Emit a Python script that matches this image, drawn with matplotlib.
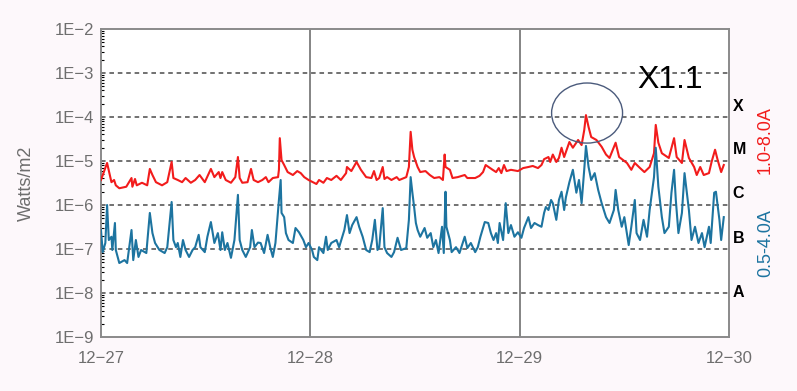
import numpy as np
import matplotlib.pyplot as plt
from matplotlib.patches import Ellipse

plt.rcParams['font.family'] = ['Liberation Sans', 'DejaVu Sans']

# hours since 12-27 00:00 and flux in W/m2
red_hours = [0.0, 0.7, 1.2, 1.5, 1.7, 2.1, 2.9, 3.5, 3.6, 3.9, 4.1, 4.7, 5.3, 5.6, 5.9, 6.3,
             7.0, 7.6, 8.1, 8.3, 8.8, 9.3, 9.7, 10.3, 10.8, 11.3, 11.9, 12.6, 13.0, 13.5,
             13.7, 13.9, 14.3, 14.9, 15.4, 15.7, 15.9, 16.2, 16.8, 17.2, 17.5, 18.0, 18.5,
             18.9, 19.2, 19.7, 20.3, 20.4, 20.5, 20.7, 21.0, 21.4, 22.0, 22.5, 22.9, 23.3,
             23.8, 24.3, 24.7, 25.0, 25.5, 25.9, 26.4, 27.0, 27.5, 28.1, 28.2, 28.7, 29.3,
             29.8, 30.4, 31.0, 31.3, 31.6, 31.9, 32.3, 32.5, 32.8, 33.3, 33.9, 34.2, 35.0,
             35.3, 35.5, 35.7, 35.9, 36.3, 36.6, 37.2, 37.7, 38.2, 38.8, 39.2, 39.4, 39.5,
             40.0, 40.3, 40.9, 41.7, 42.0, 42.9, 43.4, 43.8, 44.1, 44.6, 44.9, 45.3, 45.6,
             45.9, 46.2, 46.5, 47.0, 47.8, 48.4, 49.0, 49.5, 50.1, 50.5, 50.8, 51.3, 51.5,
             51.8, 52.2, 52.5, 52.8, 53.1, 53.7, 54.1, 54.7, 55.1, 55.4, 55.6, 55.9, 56.2,
             56.8, 57.4, 57.9, 58.3, 59.0, 59.4, 60.3, 60.8, 61.2, 61.8, 62.3, 62.9, 63.4,
             63.6, 63.9, 64.3, 65.1, 65.7, 66.0, 66.6, 66.9, 67.4, 68.0, 68.3, 68.7, 69.1,
             69.7, 70.0, 70.4, 70.7, 71.1, 71.4]
red_flux = [3.7e-6, 9.0e-6, 3.3e-6, 3.7e-6, 2.8e-6, 2.4e-6, 2.6e-6, 4.1e-6, 2.6e-6, 3.9e-6,
            2.8e-6, 3.2e-6, 2.8e-6, 6.6e-6, 4.8e-6, 3.3e-6, 2.8e-6, 3.3e-6, 9.5e-6, 4.1e-6,
            3.7e-6, 3.3e-6, 4.1e-6, 3.2e-6, 3.7e-6, 4.8e-6, 3.3e-6, 6.6e-6, 4.3e-6, 5.6e-6,
            4.1e-6, 5.6e-6, 3.7e-6, 3.2e-6, 4.3e-6, 1.23e-5, 4.1e-6, 3.2e-6, 3.3e-6, 6.6e-6,
            3.7e-6, 3.3e-6, 3.7e-6, 4.3e-6, 3.3e-6, 4.1e-6, 4.3e-6, 6.3e-6, 3.3e-5, 1.05e-5,
            8.1e-6, 5.6e-6, 4.8e-6, 5.9e-6, 5.3e-6, 4.3e-6, 3.7e-6, 3.3e-6, 3.0e-6, 3.7e-6,
            3.2e-6, 4.1e-6, 3.7e-6, 4.6e-6, 3.7e-6, 5.3e-6, 7.3e-6, 5.9e-6, 9.5e-6, 6.3e-6,
            4.3e-6, 4.1e-6, 5.9e-6, 3.7e-6, 4.1e-6, 7.3e-6, 3.9e-6, 4.3e-6, 3.7e-6, 4.3e-6,
            3.7e-6, 4.3e-6, 7.3e-6, 4.6e-5, 1.8e-5, 1.23e-5, 7.3e-6, 5.6e-6, 5.9e-6, 4.8e-6,
            4.1e-6, 4.3e-6, 3.7e-6, 1.4e-5, 7.3e-6, 6.3e-6, 4.1e-6, 4.3e-6, 4.8e-6, 4.1e-6,
            4.1e-6, 4.6e-6, 5.6e-6, 8.1e-6, 6.9e-6, 6.3e-6, 5.6e-6, 6.9e-6, 5.3e-6, 8.1e-6,
            5.9e-6, 6.3e-6, 5.9e-6, 6.9e-6, 7.3e-6, 7.7e-6, 6.9e-6, 8.1e-6, 1.1e-5, 1.23e-5,
            9.5e-6, 1.4e-5, 9.5e-6, 1.17e-5, 2.0e-5, 1.23e-5, 2.7e-5, 2.0e-5, 3.0e-5, 2.3e-5,
            5.0e-5, 1.1e-4, 5.9e-5, 3.5e-5, 3.0e-5, 2.1e-5, 1.4e-5, 1.17e-5, 2.6e-5, 1.23e-5,
            9.0e-6, 6.3e-6, 9.0e-6, 6.9e-6, 5.6e-6, 7.3e-6, 1.5e-5, 6.6e-5, 2.6e-5, 1.5e-5,
            1.17e-5, 3.3e-5, 1.23e-5, 9.0e-6, 3.0e-5, 1.17e-5, 7.3e-6, 4.8e-6, 7.3e-6, 4.8e-6,
            5.3e-6, 9.5e-6, 1.8e-5, 1.05e-5, 5.6e-6, 8.1e-6]

blue_hours = [0.0, 0.2, 0.5, 0.7, 0.9, 1.2, 1.3, 1.6, 1.7, 2.1, 2.7, 3.0, 3.5, 3.7, 4.0, 4.3,
              4.6, 5.2, 5.6, 5.9, 6.2, 6.7, 7.3, 7.6, 8.1, 8.3, 8.6, 8.8, 9.1, 9.4, 9.7, 10.1,
              10.5, 10.8, 11.2, 11.4, 11.9, 12.2, 12.6, 13.0, 13.4, 13.7, 13.9, 14.2, 14.5,
              14.9, 15.3, 15.7, 15.9, 16.2, 16.6, 17.1, 17.3, 17.6, 18.0, 18.3, 18.7, 19.1,
              19.4, 19.7, 20.0, 20.4, 20.6, 20.7, 21.0, 21.2, 21.5, 22.0, 22.3, 22.7, 23.2,
              23.5, 23.8, 24.2, 24.4, 24.8, 25.0, 25.5, 25.8, 26.0, 26.4, 27.0, 27.3, 27.9,
              28.2, 28.5, 28.8, 29.3, 29.6, 30.0, 30.4, 30.8, 31.1, 31.4, 31.7, 31.9, 32.3,
              32.5, 32.8, 33.3, 33.6, 34.0, 34.4, 35.0, 35.3, 35.5, 35.7, 35.9, 36.1, 36.3,
              36.6, 37.1, 37.4, 37.8, 38.1, 38.4, 38.7, 39.1, 39.3, 39.5, 39.6, 40.0, 40.2,
              40.7, 41.1, 41.7, 42.0, 42.4, 42.9, 43.2, 43.5, 44.0, 44.4, 44.7, 45.0, 45.3,
              45.5, 45.7, 46.1, 46.4, 46.7, 47.0, 47.4, 47.8, 48.2, 48.5, 49.0, 49.3, 49.7,
              50.1, 50.5, 50.8, 51.0, 51.3, 51.6, 51.8, 52.2, 52.5, 52.8, 53.1, 53.3, 53.7,
              54.1, 54.5, 54.8, 55.1, 55.4, 55.6, 55.9, 56.2, 56.6, 57.0, 57.4, 57.9, 58.3,
              58.8, 59.0, 59.3, 59.7, 60.0, 60.5, 60.8, 61.2, 61.4, 61.8, 62.2, 62.6, 62.9,
              63.4, 63.6, 63.9, 64.3, 64.6, 65.1, 65.4, 65.7, 65.9, 66.2, 66.6, 66.9, 67.4,
              67.7, 68.1, 68.5, 68.9, 69.2, 69.7, 69.9, 70.3, 70.5, 70.9, 71.1, 71.4]
blue_flux = [2.7e-7, 8.5e-8, 1.37e-7, 1.0e-6, 1.6e-7, 1.9e-7, 9.5e-8, 3.9e-7, 9.5e-8, 4.8e-8,
             5.6e-8, 4.8e-8, 2.7e-7, 5.6e-8, 1.6e-7, 6.6e-8, 9.5e-8, 8.1e-8, 6.6e-7, 2.3e-7,
             1.37e-7, 9.5e-8, 8.1e-8, 1.1e-7, 1.17e-6, 1.6e-7, 1.1e-7, 1.37e-7, 6.6e-8, 1.6e-7,
             9.5e-8, 6.6e-8, 9.5e-8, 1.1e-7, 2.1e-7, 1.1e-7, 8.5e-8, 1.9e-7, 4.1e-7, 1.37e-7,
             2.3e-7, 9.5e-8, 2.4e-7, 9.5e-8, 1.37e-7, 6.3e-8, 1.6e-7, 1.7e-6, 1.6e-7, 9.5e-8,
             6.6e-8, 1.1e-7, 2.7e-7, 1.1e-7, 1.4e-7, 1.37e-7, 8.1e-8, 2.1e-7, 1.1e-7, 6.6e-8,
             1.37e-7, 1.3e-6, 3.7e-6, 6.6e-7, 5.3e-7, 2.3e-7, 1.6e-7, 1.37e-7, 3.0e-7, 2.4e-7,
             1.6e-7, 1.1e-7, 1.37e-7, 9.5e-8, 6.6e-8, 5.6e-8, 1.1e-7, 8.1e-8, 1.9e-7, 9.5e-8,
             1.37e-7, 1.6e-7, 1.1e-7, 2.7e-7, 5.9e-7, 2.3e-7, 3.5e-7, 5.3e-7, 3.2e-7, 1.9e-7,
             9.5e-8, 8.5e-8, 1.6e-7, 4.6e-7, 9.5e-8, 1.1e-7, 8.5e-7, 1.1e-7, 8.1e-8, 6.6e-8,
             8.5e-8, 1.8e-7, 9.5e-8, 1.05e-7, 4.6e-7, 4.3e-6, 1.9e-6, 9.0e-7, 3.9e-7, 2.7e-7,
             1.9e-7, 3.0e-7, 1.8e-7, 2.3e-7, 1.1e-7, 1.6e-7, 8.1e-8, 3.2e-7, 8.1e-8, 2.0e-6,
             3.2e-7, 1.6e-7, 8.5e-8, 1.1e-7, 8.1e-8, 1.9e-7, 1.05e-7, 1.37e-7, 8.5e-8, 1.1e-7,
             1.9e-7, 4.1e-7, 3.9e-7, 2.3e-7, 1.6e-7, 2.3e-7, 1.37e-7, 3.9e-7, 1.6e-7, 1.1e-6,
             2.3e-7, 3.5e-7, 1.9e-7, 2.4e-7, 1.8e-7, 3.0e-7, 5.3e-7, 3.0e-7, 3.9e-7, 3.5e-7,
             3.2e-7, 6.6e-7, 9.0e-7, 7.7e-7, 1.3e-6, 1.1e-6, 4.6e-7, 1.3e-6, 2.0e-6, 7.7e-7,
             1.5e-6, 3.3e-6, 6.3e-6, 1.9e-6, 3.7e-6, 1.1e-6, 6.3e-6, 2.2e-5, 7.3e-6, 3.7e-6,
             5.3e-6, 2.2e-6, 1.1e-6, 5.3e-7, 3.9e-7, 7.7e-7, 2.2e-6, 7.7e-7, 3.2e-7, 5.3e-7,
             1.23e-7, 3.2e-7, 1.3e-6, 2.3e-7, 1.6e-7, 4.6e-7, 1.9e-7, 7.7e-7, 4.3e-6, 2.0e-5,
             2.6e-6, 5.3e-7, 2.3e-7, 3.2e-7, 1.9e-6, 6.3e-6, 1.3e-6, 2.3e-7, 6.6e-7, 5.3e-6,
             7.7e-7, 1.6e-7, 3.2e-7, 1.37e-7, 2.3e-7, 1.1e-7, 3.2e-7, 1.37e-7, 1.9e-6, 2.0e-6,
             4.6e-7, 1.6e-7, 5.3e-7]

day_ticks = [0, 24, 48, 72]
day_labels = ['12\u221227', '12\u221228', '12\u221229', '12\u221230']
y_ticks = [1e-9, 1e-8, 1e-7, 1e-6, 1e-5, 1e-4, 1e-3, 1e-2]
y_labels = ['1E\u22129', '1E\u22128', '1E\u22127', '1E\u22126', '1E\u22125', '1E\u22124',
            '1E\u22123', '1E\u22122']
classes = ['A', 'B', 'C', 'M', 'X']
class_pos = [10**-7.98, 10**-6.75, 10**-5.75, 10**-4.75, 10**-3.77]

red = '#f21c1c'
blue = '#1d74a0'
grey = '#6e6e6e'

fig = plt.figure(figsize=(7.97, 3.91), dpi=100, facecolor='#fdf8fb')
ax = fig.add_axes([0.1267, 0.138, 0.788, 0.788])
ax.set_facecolor('white')

ax.plot(red_hours, red_flux, color=red, lw=1.5, zorder=3)
ax.plot(blue_hours, blue_flux, color=blue, lw=1.5, zorder=3)

ax.set_yscale('log')
ax.set_ylim(1e-9, 1e-2)
ax.set_xlim(0, 72)

for yv in y_ticks[1:-1]:
    ax.axhline(yv, color='#4a4a4a', lw=1.1, ls=(0, (3, 2.5)), zorder=1)
for xv in day_ticks[1:-1]:
    ax.axvline(xv, color='#707070', lw=1.2, zorder=1)

ax.set_yticks(y_ticks)
ax.set_yticklabels(y_labels)
ax.set_xticks(day_ticks)
ax.set_xticklabels(day_labels)
ax.tick_params(axis='y', which='major', direction='in', length=0, pad=5,
               labelsize=12, labelcolor=grey)
ax.tick_params(axis='y', which='minor', direction='in', length=2.5, width=0.8,
               color='black', labelleft=False)
ax.tick_params(axis='x', which='both', length=0, pad=10, labelsize=12, labelcolor=grey)

for s in ax.spines.values():
    s.set_color('#8a8a8a')
    s.set_linewidth(1.4)

ax.set_ylabel('Watts/m2', color=grey, fontsize=13, labelpad=14)

for c, yv in zip(classes, class_pos):
    ax.text(1.006, yv, c, transform=ax.get_yaxis_transform(), fontsize=11.5,
            fontweight='bold', color='black', ha='left', va='center')

ax.text(1.058, 0.64, '1.0-8.0A', transform=ax.transAxes, rotation=90, color=red,
        fontsize=13, ha='center', va='center')
ax.text(1.058, 0.305, '0.5-4.0A', transform=ax.transAxes, rotation=90, color=blue,
        fontsize=13, ha='center', va='center')

ax.add_patch(Ellipse((0.774, 0.727), 0.113, 0.195, transform=ax.transAxes,
                     fill=False, edgecolor='#4b5b7c', lw=1.0, zorder=4, clip_on=False))
ax.text(0.906, 0.834, 'X1.1', transform=ax.transAxes, fontsize=23, color='black',
        ha='center', va='center')

fig.savefig('out.png', dpi=100, facecolor=fig.get_facecolor())
